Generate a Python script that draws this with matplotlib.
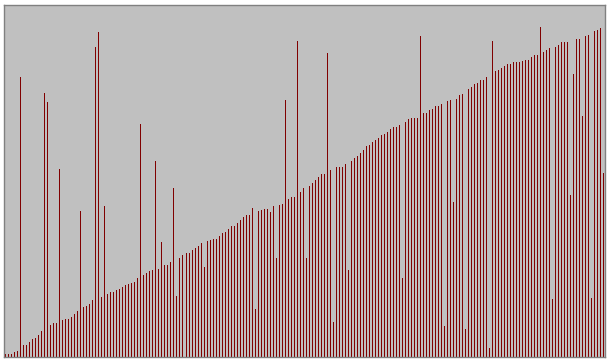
import numpy as np
import matplotlib
matplotlib.use("Agg")
import matplotlib.pyplot as plt

# bar heights (pixel units, 200 bars)
heights_a = [3, 3, 3, 5, 6, 280, 12, 12, 15, 18, 19, 22, 26, 264, 255, 32, 34, 34, 188, 37,
             38, 38, 40, 43, 46, 146, 50, 51, 53, 57, 310, 325, 60, 151, 63, 65, 65, 67, 68, 70,
             72, 73, 74, 75, 79, 233, 82, 84, 86, 87]
heights_b = [196, 88, 115, 92, 92, 95, 169, 61, 99, 102, 104, 104, 107, 109, 111, 114, 90, 116, 117, 118,
             118, 121, 124, 125, 128, 131, 131, 134, 137, 140, 142, 142, 149, 48, 146, 147, 148, 148, 145, 151,
             99, 152, 153, 257, 158, 160, 160, 316, 165, 169, 99, 171]
heights_c = [174, 177, 180, 183, 183, 304, 187, 35, 190, 190, 190, 193, 87, 196, 199, 201, 204, 207, 211, 212,
             215, 217, 219, 222, 223, 225, 228, 230, 230, 232, 79, 235, 238, 239, 239, 239, 321, 244, 244, 247,
             248, 251, 251, 253, 31, 256, 257, 155, 258, 262]
heights_d = [263, 28, 268, 270, 273, 274, 277, 277, 280, 9, 316, 286, 287, 289, 291, 293, 293, 295, 295, 295,
             296, 297, 297, 300, 302, 302, 330, 305, 307, 309, 58, 310, 312, 315, 315, 315, 162, 283, 318, 318,
             241, 321, 322, 59, 326, 327, 329, 184]

values = heights_a + heights_b + heights_c + heights_d
x = np.arange(len(values))

fig = plt.figure(figsize=(6.11, 3.59), dpi=100)
fig.patch.set_facecolor("white")
ax = fig.add_axes([4 / 611, 2.5 / 359, 601 / 611, 352 / 359])
ax.set_facecolor("#c0c0c0")

# one-pixel-wide bars, drawn as vertical lines so they stay crisp
ax.vlines(x, 0, values, colors="#800000", linewidth=0.72, antialiased=False)

ax.set_xlim(-0.4, len(values) - 0.4)
ax.set_ylim(0, 352)
ax.set_xticks([])
ax.set_yticks([])
for s in ax.spines.values():
    s.set_color("#808080")
    s.set_linewidth(1.0)

fig.savefig("out.png", dpi=100)
